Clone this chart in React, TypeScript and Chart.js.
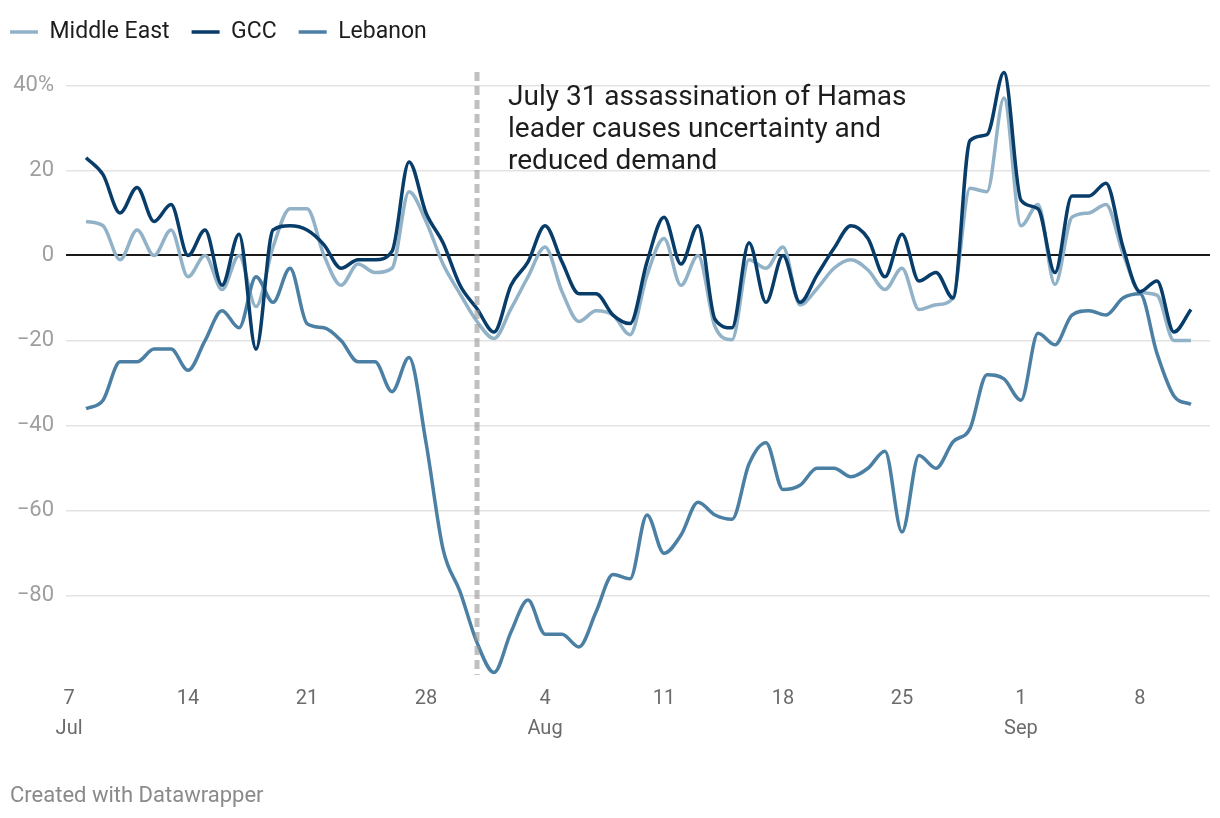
import { useEffect, useRef } from "react";
import { Chart, registerables } from "chart.js";

Chart.register(...registerables);

// ---------- data ----------
const originDate = "2024-07-07";
const dates = [
  "2024-07-08", "2024-07-09", "2024-07-10", "2024-07-11", "2024-07-12", "2024-07-13", "2024-07-14",
  "2024-07-15", "2024-07-16", "2024-07-17", "2024-07-18", "2024-07-19", "2024-07-20", "2024-07-21",
  "2024-07-22", "2024-07-23", "2024-07-24", "2024-07-25", "2024-07-26", "2024-07-27", "2024-07-28",
  "2024-07-29", "2024-07-30", "2024-07-31", "2024-08-01", "2024-08-02", "2024-08-03", "2024-08-04",
  "2024-08-05", "2024-08-06", "2024-08-07", "2024-08-08", "2024-08-09", "2024-08-10", "2024-08-11",
  "2024-08-12", "2024-08-13", "2024-08-14", "2024-08-15", "2024-08-16", "2024-08-17", "2024-08-18",
  "2024-08-19", "2024-08-20", "2024-08-21", "2024-08-22", "2024-08-23", "2024-08-24", "2024-08-25",
  "2024-08-26", "2024-08-27", "2024-08-28", "2024-08-29", "2024-08-30", "2024-08-31", "2024-09-01",
  "2024-09-02", "2024-09-03", "2024-09-04", "2024-09-05", "2024-09-06", "2024-09-07", "2024-09-08",
  "2024-09-09", "2024-09-10", "2024-09-11",
];

const middleEast = [
  8, 7, -1, 6, 0, 6, -5,
  0, -8, 0, -12, 2, 11, 11,
  0, -7, -2, -4, -3, 15, 8,
  -2, -9, -15.5, -19.5, -12.5, -5, 2,
  -8.5, -15.5, -13, -14, -18.6, -4.6, 4,
  -7, 0, -16.7, -19.8, -1, -3, 2,
  -11.6, -7.8, -3, -1, -3.4, -8, -3,
  -12.7, -11.6, -10, 15.8, 15, 37, 7,
  12, -6.8, 9, 10, 12, 0.5, -8.5,
  -9.3, -20, -20,
];

const gcc = [
  23, 19, 10, 16, 8, 12, 0,
  6, -7, 5, -22, 6, 7, 6,
  2.5, -3, -1, -1, 1, 22, 10,
  3, -7, -12.5, -18, -7, -1.5, 7,
  -1.5, -9, -9, -14, -16, -1.5, 9,
  -2, 7, -15, -17, 3, -11, 0,
  -11, -4.6, 1.7, 7, 4, -5, 5,
  -6, -4, -10, 27, 28.4, 43, 13,
  11, -4, 14, 14, 17, 2, -8.5,
  -6, -18, -12.7,
];

const lebanon = [
  -36, -34, -25, -25, -22, -22, -27,
  -20, -13, -17, -5, -11, -3, -16,
  -17, -20, -25, -25, -32, -24, -44,
  -69, -79, -91, -98, -88.5, -81, -89,
  -89, -92, -83.8, -75, -76, -61, -70,
  -65.7, -58, -61, -62, -49, -44, -55,
  -54, -50, -50, -52, -50, -46, -65,
  -47, -50, -43.8, -40.7, -28, -29, -34,
  -18.3, -21, -14, -13, -14, -10, -9,
  -23, -33, -35,
];

const seriesNames = ["Middle East", "GCC", "Lebanon"];
const seriesColors = ["#92b2c7", "#083d6a", "#4b7fa3"];

const yTickValues = [40, 20, 0, -20, -40, -60, -80];
const yTickLabels = ["40%", "20", "0", "\u221220", "\u221240", "\u221260", "\u221280"];

const xTickDates = [
  "2024-07-07", "2024-07-14", "2024-07-21", "2024-07-28", "2024-08-04",
  "2024-08-11", "2024-08-18", "2024-08-25", "2024-09-01", "2024-09-08",
];
const xTickLabels = [
  ["7", "Jul"], ["14"], ["21"], ["28"], ["4", "Aug"],
  ["11"], ["18"], ["25"], ["1", "Sep"], ["8"],
];

const annotationDate = "2024-07-31";
const annotationLines = [
  "July 31 assassination of Hamas",
  "leader causes uncertainty and",
  "reduced demand",
];
const footerText = "Created with Datawrapper";

// ---------- helpers ----------
const dayIndex = (d: string) =>
  Math.round((Date.parse(d) - Date.parse(originDate)) / 86400000);

const FONT = "Roboto, 'Noto Sans', sans-serif";

const annotationPlugin = {
  id: "annotationPlugin",
  afterDatasetsDraw(chart: any) {
    const { ctx, chartArea, scales } = chart;
    const x = scales.x.getPixelForValue(dayIndex(annotationDate));
    ctx.save();
    ctx.strokeStyle = "rgba(150,150,150,0.6)";
    ctx.lineWidth = 5;
    ctx.setLineDash([9, 5]);
    ctx.beginPath();
    ctx.moveTo(x, chartArea.top + 2);
    ctx.lineTo(x, chartArea.bottom);
    ctx.stroke();
    ctx.setLineDash([]);
    ctx.fillStyle = "#1d1d1d";
    ctx.font = `28px ${FONT}`;
    ctx.textBaseline = "middle";
    ctx.textAlign = "left";
    annotationLines.forEach((t, i) => {
      ctx.fillText(t, x + 31, chartArea.top + 28 + i * 32);
    });
    ctx.restore();
  },
};

export default function App() {
  const canvasRef = useRef<HTMLCanvasElement | null>(null);

  useEffect(() => {
    if (!canvasRef.current) return;
    const all = [middleEast, gcc, lebanon];
    const orders = [2, 0, 1];
    const chart = new Chart(canvasRef.current, {
      type: "line",
      data: {
        datasets: all.map((vals, si) => ({
          label: seriesNames[si],
          data: vals.map((v, i) => ({ x: dayIndex(dates[i]), y: v })),
          borderColor: seriesColors[si],
          backgroundColor: seriesColors[si],
          borderWidth: 3.5,
          pointRadius: 0,
          pointHoverRadius: 0,
          cubicInterpolationMode: "monotone" as const,
          fill: false,
          order: orders[si],
        })),
      },
      options: {
        responsive: false,
        animation: false,
        devicePixelRatio: 1,
        layout: { padding: { left: -12, right: 10, top: -1.5, bottom: 0 } },
        plugins: {
          legend: {
            display: true,
            position: "top",
            align: "start",
            labels: {
              usePointStyle: true,
              pointStyle: "line",
              pointStyleWidth: 28,
              padding: 22,
              color: "#1d1d1d",
              font: { family: FONT, size: 23 },
              sort: (a: any, b: any) => a.datasetIndex - b.datasetIndex,
            },
          },
          tooltip: { enabled: false },
          title: { display: false },
        },
        scales: {
          x: {
            type: "linear",
            min: -0.18,
            max: 67.12,
            grid: { display: false, drawTicks: false },
            border: { display: false },
            afterBuildTicks: (scale: any) => {
              scale.ticks = xTickDates.map((d) => ({ value: dayIndex(d) }));
            },
            afterFit: (scale: any) => {
              scale.height = 143;
            },
            ticks: {
              autoSkip: false,
              maxRotation: 0,
              padding: 9,
              color: "#6b6b6b",
              font: { family: FONT, size: 20, lineHeight: 1.5 },
              callback: (value: any) => {
                const idx = xTickDates.findIndex((d) => dayIndex(d) === value);
                return idx >= 0 ? xTickLabels[idx] : "";
              },
            },
          },
          xTop: {
            type: "linear",
            position: "top",
            display: true,
            grid: { display: false, drawTicks: false },
            border: { display: false },
            ticks: { display: false },
            afterFit: (scale: any) => {
              scale.height = 16.5;
            },
          },
          y: {
            type: "linear",
            min: -98.6,
            max: 43.6,
            border: { display: false },
            afterBuildTicks: (scale: any) => {
              scale.ticks = yTickValues.map((v) => ({ value: v }));
            },
            afterFit: (scale: any) => {
              scale.width = 78;
            },
            grid: {
              drawTicks: false,
              color: (c: any) => (c.tick && c.tick.value === 0 ? "#1a1a1a" : "#e3e3e3"),
              lineWidth: (c: any) => (c.tick && c.tick.value === 0 ? 2 : 1.6),
            },
            ticks: {
              padding: 12,
              color: "#9f9f9f",
              font: { family: FONT, size: 22 },
              callback: (value: any) => {
                const idx = yTickValues.indexOf(value);
                return idx >= 0 ? yTickLabels[idx] : "";
              },
            },
          },
        },
      },
      plugins: [annotationPlugin],
    });
    return () => chart.destroy();
  }, []);

  return (
    <div
      style={{
        position: "absolute",
        left: 0,
        top: 0,
        width: 1220,
        height: 818,
        background: "#ffffff",
        overflow: "hidden",
      }}
    >
      <canvas ref={canvasRef} width={1220} height={818} style={{ display: "block" }} />
      <div
        style={{
          position: "absolute",
          left: 10,
          top: 781,
          fontFamily: FONT,
          fontSize: 22,
          lineHeight: "28px",
          color: "#8a8a8a",
          whiteSpace: "nowrap",
        }}
      >
        {footerText}
      </div>
    </div>
  );
}
